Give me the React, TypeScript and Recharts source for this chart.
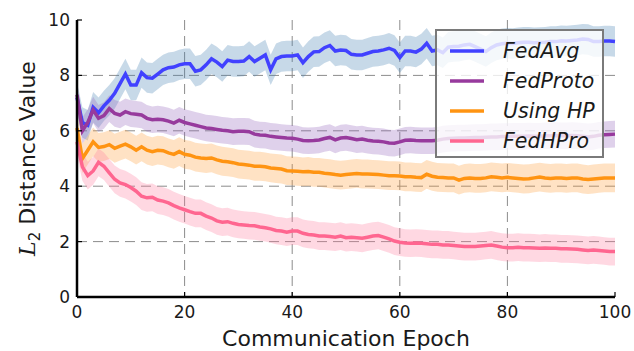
import React from "react"
import {
  Area,
  CartesianGrid,
  ComposedChart,
  Legend,
  Line,
  XAxis,
  YAxis,
} from "recharts"

// epochs 0..100
const epochs = Array.from({ length: 101 }, (_, i) => i)

const fedAvg = [
  7.2, 6.3, 6.2, 6.85, 6.65, 6.9, 7.1, 7.35, 7.7, 8.05,
  7.65, 7.65, 8.1, 7.92, 7.9, 8.05, 8.2, 8.28, 8.3, 8.38,
  8.42, 8.42, 8.15, 8.2, 8.38, 8.6, 8.48, 8.32, 8.55, 8.5,
  8.5, 8.52, 8.68, 8.5, 8.62, 8.74, 8.2, 8.6, 8.68, 8.7,
  8.7, 8.74, 8.46, 8.68, 8.85, 8.86, 9.0, 9.08, 8.88, 8.92,
  8.9, 8.76, 8.74, 8.74, 8.8, 8.86, 8.88, 8.92, 8.98, 8.9,
  8.64, 8.88, 8.88, 8.84, 8.95, 9.16, 8.88, 8.92, 8.82, 9.02,
  9.04, 9.05, 9.1, 9.12, 9.04, 8.95, 8.86, 9.0, 9.1, 9.14,
  9.16, 9.15, 9.18, 9.2, 9.2, 9.18, 9.19, 9.2, 9.22, 9.22,
  9.25, 9.24, 9.26, 9.28, 9.31, 9.3, 9.22, 9.22, 9.24, 9.24,
  9.22,
]

const fedProto = [
  7.3, 6.0, 6.3, 6.75, 6.45, 6.55, 6.8, 6.63, 6.57, 6.69,
  6.62, 6.6, 6.57, 6.45, 6.4, 6.42, 6.4, 6.35, 6.28, 6.38,
  6.3, 6.25, 6.2, 6.15, 6.1, 6.08, 6.05, 6.02, 6.0, 5.97,
  5.98, 5.98, 5.97, 5.88, 5.85, 5.84, 5.8, 5.78, 5.76, 5.74,
  5.73, 5.7, 5.65, 5.64, 5.65, 5.67, 5.72, 5.76, 5.67, 5.74,
  5.76, 5.72, 5.68, 5.7, 5.66, 5.63, 5.62, 5.6, 5.56, 5.55,
  5.6, 5.66, 5.67, 5.65, 5.64, 5.64, 5.64, 5.66, 5.7, 5.72,
  5.73, 5.74, 5.74, 5.75, 5.76, 5.76, 5.77, 5.78, 5.78, 5.79,
  5.79, 5.8, 5.8, 5.8, 5.81, 5.8, 5.8, 5.82, 5.82, 5.83,
  5.82, 5.82, 5.83, 5.82, 5.8, 5.78, 5.8, 5.84, 5.86, 5.87,
  5.88,
]

const usingHP = [
  6.1, 5.0, 5.3, 5.6, 5.4, 5.43, 5.5, 5.37, 5.45, 5.52,
  5.42, 5.3, 5.42, 5.3, 5.25, 5.3, 5.28, 5.2, 5.15, 5.25,
  5.15, 5.12, 5.05, 5.02, 5.0, 5.02, 4.95, 4.9, 4.88, 4.85,
  4.8, 4.78, 4.76, 4.72, 4.72, 4.7, 4.66, 4.64, 4.62, 4.56,
  4.55, 4.54, 4.52, 4.53, 4.5, 4.5, 4.47, 4.45, 4.42, 4.4,
  4.42, 4.44, 4.46, 4.44, 4.44, 4.43, 4.42, 4.4, 4.38, 4.38,
  4.37, 4.34, 4.34, 4.32, 4.31, 4.43, 4.36, 4.32, 4.31, 4.3,
  4.3, 4.22, 4.28, 4.3, 4.28, 4.28, 4.3, 4.34, 4.32, 4.3,
  4.32, 4.3, 4.28, 4.26, 4.27, 4.3, 4.33, 4.3, 4.28, 4.3,
  4.3, 4.28, 4.3, 4.3, 4.26, 4.24, 4.26, 4.28, 4.3, 4.3,
  4.3,
]

const fedHPro = [
  5.6, 4.7, 4.38, 4.55, 4.86, 4.72, 4.48, 4.25, 4.12, 4.06,
  3.95, 3.82, 3.64, 3.58, 3.6, 3.5, 3.46, 3.4, 3.3, 3.22,
  3.15, 3.08, 3.02, 3.02, 2.92, 2.85, 2.75, 2.7, 2.72, 2.66,
  2.62, 2.6, 2.58, 2.57, 2.53, 2.5, 2.46, 2.4, 2.38, 2.34,
  2.38, 2.38, 2.3, 2.26, 2.24, 2.2, 2.2, 2.18, 2.16, 2.2,
  2.14, 2.16, 2.14, 2.12, 2.16, 2.2, 2.22, 2.16, 2.1, 2.02,
  1.98, 1.95, 1.94, 1.95, 1.94, 1.92, 1.9, 1.9, 1.88, 1.88,
  1.86, 1.84, 1.82, 1.82, 1.82, 1.84, 1.86, 1.88, 1.84, 1.8,
  1.78, 1.78, 1.8, 1.78, 1.78, 1.77, 1.76, 1.77, 1.76, 1.76,
  1.74, 1.74, 1.73, 1.72, 1.7, 1.68, 1.7, 1.68, 1.66, 1.64,
  1.64,
]

// half width of the shaded band
const fedAvgSpread = 0.55
const fedProtoSpread = 0.48
const usingHPSpread = 0.52
const fedHProSpread = 0.5

const xTicks = [0, 20, 40, 60, 80, 100]
const yTicks = [0, 2, 4, 6, 8, 10]

const series = [
  { key: "fedAvg", name: "FedAvg", values: fedAvg, spread: fedAvgSpread, color: "#4141ff", band: "#4682b4" },
  { key: "fedProto", name: "FedProto", values: fedProto, spread: fedProtoSpread, color: "#973a9d", band: "#9467bd" },
  { key: "usingHP", name: "Using HP", values: usingHP, spread: usingHPSpread, color: "#ff9412", band: "#ff9f3a" },
  { key: "fedHPro", name: "FedHPro", values: fedHPro, spread: fedHProSpread, color: "#ff6690", band: "#ff7fa0" },
]

const rows = epochs.map((epoch, i) => {
  const row: any = { epoch }
  series.forEach((s) => {
    row[s.key] = s.values[i]
    row[s.key + "Band"] = [s.values[i] - s.spread, s.values[i] + s.spread]
  })
  return row
})

const textColor = "#1a1a1a"

const BottomTick = (props: any) => {
  const { x, y, payload } = props
  return (
    <g>
      <line x1={x} x2={x} y1={y} y2={y - 5} stroke="#000" strokeWidth={1.2} />
      <text x={x} y={y + 21} textAnchor="middle" fontSize={17} fill={textColor} fontFamily="DejaVu Sans">
        {payload.value}
      </text>
    </g>
  )
}

const LeftTick = (props: any) => {
  const { x, y, payload } = props
  return (
    <g>
      <line x1={x} x2={x + 5} y1={y} y2={y} stroke="#000" strokeWidth={1.2} />
      <text x={x - 7} y={y + 6} textAnchor="end" fontSize={17} fill={textColor} fontFamily="DejaVu Sans">
        {payload.value}
      </text>
    </g>
  )
}

const TopTick = (props: any) => {
  const { x, y } = props
  return <line x1={x} x2={x} y1={y} y2={y + 5} stroke="#000" strokeWidth={1.2} />
}

const RightTick = (props: any) => {
  const { x, y } = props
  return <line x1={x} x2={x - 5} y1={y} y2={y} stroke="#000" strokeWidth={1.2} />
}

const YLabel = (props: any) => {
  const vb = props.viewBox || { x: 0, y: 20, width: 77, height: 277 }
  const cx = vb.x + 35
  const cy = vb.y + vb.height / 2
  return (
    <text
      x={cx}
      y={cy}
      transform={`rotate(-90 ${cx} ${cy})`}
      textAnchor="middle"
      fontSize={22}
      fill={textColor}
      fontFamily="DejaVu Sans"
    >
      <tspan fontFamily="DejaVu Serif" fontStyle="italic">L</tspan>
      <tspan fontSize={15} dy={5}>2</tspan>
      <tspan dy={-5}> Distance Value</tspan>
    </text>
  )
}

const XLabel = (props: any) => {
  const vb = props.viewBox || { x: 77, y: 297, width: 538, height: 54 }
  return (
    <text
      x={vb.x + vb.width / 2}
      y={vb.y + 49}
      textAnchor="middle"
      fontSize={22}
      fill={textColor}
      fontFamily="DejaVu Sans"
    >
      Communication Epoch
    </text>
  )
}

const renderLegend = () => (
  <div
    style={{
      boxSizing: "border-box",
      width: 169,
      height: 129,
      border: "2px solid #7a7a7a",
      background: "rgba(255,255,255,0.8)",
      padding: "5px 0 0 0",
    }}
  >
    {series.map((s) => (
      <div key={s.key} style={{ display: "flex", alignItems: "center", height: 30 }}>
        <svg width={60} height={10} style={{ marginLeft: 11 }}>
          <line x1={2} x2={36} y1={5} y2={5} stroke={s.color} strokeWidth={3.5} />
        </svg>
        <span
          style={{
            fontFamily: "DejaVu Sans",
            fontStyle: "italic",
            fontSize: 20.5,
            color: textColor,
            marginLeft: -5,
            lineHeight: "30px",
          }}
        >
          {s.name}
        </span>
      </div>
    ))}
  </div>
)

export default function App() {
  return (
    <div style={{ position: "absolute", left: 0, top: 0, width: 634, height: 351, background: "#fff" }}>
      <ComposedChart
        width={634}
        height={351}
        data={rows}
        margin={{ top: 20, right: 19, left: 0, bottom: 0 }}
      >
        <CartesianGrid
          stroke="#8c8c8c"
          strokeDasharray="10 6"
          strokeWidth={1}
          horizontalValues={[2, 4, 6, 8]}
          verticalValues={[20, 40, 60, 80]}
        />
        <XAxis
          dataKey="epoch"
          type="number"
          domain={[0, 100]}
          ticks={xTicks}
          interval={0}
          height={54}
          tickSize={0}
          tickMargin={0}
          tick={<BottomTick />}
          axisLine={{ stroke: "#000", strokeWidth: 2.5 }}
          label={<XLabel />}
        />
        <XAxis
          xAxisId="top"
          dataKey="epoch"
          type="number"
          orientation="top"
          domain={[0, 100]}
          ticks={xTicks}
          interval={0}
          height={0}
          tickSize={0}
          tickMargin={0}
          tick={<TopTick />}
          axisLine={{ stroke: "#000", strokeWidth: 2.5 }}
        />
        <YAxis
          type="number"
          domain={[0, 10]}
          ticks={yTicks}
          interval={0}
          width={77}
          tickSize={0}
          tickMargin={0}
          tick={<LeftTick />}
          axisLine={{ stroke: "#000", strokeWidth: 2.5 }}
          label={<YLabel />}
        />
        <YAxis
          yAxisId="right"
          type="number"
          orientation="right"
          domain={[0, 10]}
          ticks={yTicks}
          interval={0}
          width={0}
          tickSize={0}
          tickMargin={0}
          tick={<RightTick />}
          axisLine={{ stroke: "#000", strokeWidth: 2.5 }}
        />
        {series.map((s) => (
          <Area
            key={s.key + "Band"}
            type="linear"
            dataKey={s.key + "Band"}
            stroke="none"
            fill={s.band}
            fillOpacity={0.3}
            isAnimationActive={false}
            legendType="none"
            activeDot={false}
          />
        ))}
        {series.map((s) => (
          <Line
            key={s.key}
            type="linear"
            dataKey={s.key}
            name={s.name}
            stroke={s.color}
            strokeWidth={3.5}
            dot={false}
            activeDot={false}
            isAnimationActive={false}
          />
        ))}
        <Legend
          layout="vertical"
          align="center"
          verticalAlign="middle"
          content={renderLegend}
          wrapperStyle={{ position: "absolute", left: 435, top: 29, width: 169, height: 129 }}
        />
      </ComposedChart>
    </div>
  )
}
